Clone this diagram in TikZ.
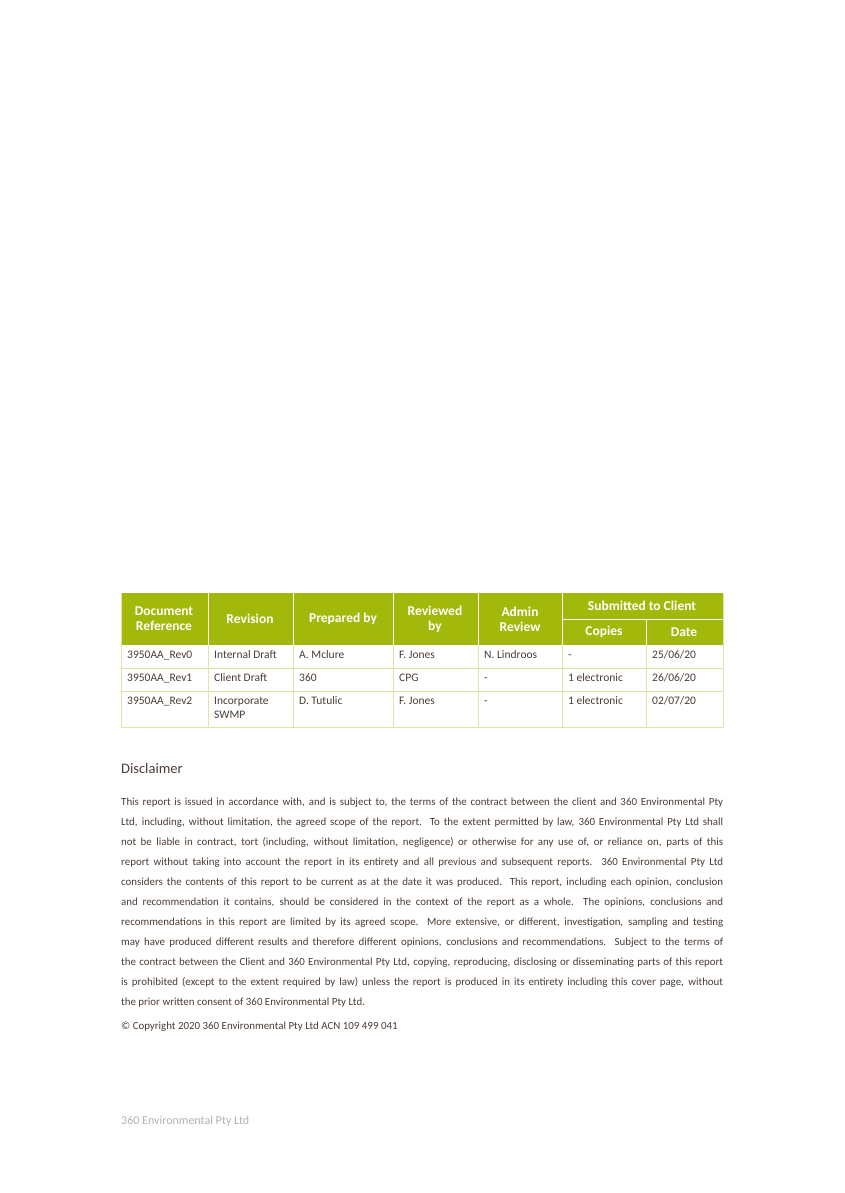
\documentclass[tikz,border=0pt]{standalone}
\usepackage{fontspec}
\setmainfont{Carlito}
\usetikzlibrary{positioning}
\definecolor{leaf}{HTML}{A2B90C}
\definecolor{leaflight}{HTML}{DCE6A8}
\definecolor{inkbrown}{HTML}{4A3C34}
\tikzset{
  hdr/.style={text=white,font=\fontsize{13.5}{15}\selectfont\bfseries,align=center,inner sep=0pt},
  cell/.style={text=inkbrown,font=\fontsize{11.5}{13.5}\selectfont,anchor=north west,align=left,inner sep=0pt},
  para/.style={text=inkbrown,font=\fontsize{10.9}{12}\selectfont,anchor=base west,inner sep=0pt}
}
\newcommand{\jline}[1]{\makebox[602pt][s]{#1}}
\begin{document}
\begin{tikzpicture}[x=1pt,y=-1pt]
\useasboundingbox (0,0) rectangle (844,1193);
% table header
\fill[leaf] (121,593) rectangle (723,645);
\draw[white,line width=1pt] (208,593) -- (208,645) (293,593) -- (293,645) (393,593) -- (393,645)
  (478,593) -- (478,645) (562,593) -- (562,645) (646,619) -- (646,645) (562,619) -- (723,619);
\draw[leaflight,line width=0.8pt] (121,593) -- (121,727) -- (723,727) -- (723,593)
  (121,668) -- (723,668) (121,691) -- (723,691);
\foreach \cx in {208,293,393,478,562,646}
  \draw[leaflight,line width=0.8pt] (\cx,645) -- (\cx,727);
\node[hdr] (docref) at (164,619) {Document\\Reference};
\node[hdr] (revision) at (250,619) {Revision};
\node[hdr] (prepared) at (343,619) {Prepared by};
\node[hdr] (reviewed) at (435,619) {Reviewed\\by};
\node[hdr] (admin) at (520,619) {Admin\\Review};
\node[hdr] (submitted) at (642,606) {Submitted to Client};
\node[hdr] (copies) at (604,632) {Copies};
\node[hdr] (date) at (684,632) {Date};
% table body
\node[cell] (r0a) at (127,649) {\strut 3950AA\_Rev0};
\node[cell] (r0b) at (214,649) {\strut Internal Draft};
\node[cell] (r0c) at (299,649) {\strut A. Mclure};
\node[cell] (r0d) at (399,649) {\strut F. Jones};
\node[cell] (r0e) at (484,649) {\strut N. Lindroos};
\node[cell] (r0f) at (568,649) {\strut -};
\node[cell] (r0g) at (652,649) {\strut 25/06/20};
\node[cell] (r1a) at (127,672) {\strut 3950AA\_Rev1};
\node[cell] (r1b) at (214,672) {\strut Client Draft};
\node[cell] (r1c) at (299,672) {\strut 360};
\node[cell] (r1d) at (399,672) {\strut CPG};
\node[cell] (r1e) at (484,672) {\strut -};
\node[cell] (r1f) at (568,672) {\strut 1 electronic};
\node[cell] (r1g) at (652,672) {\strut 26/06/20};
\node[cell] (r2a) at (127,695) {\strut 3950AA\_Rev2};
\node[cell] (r2b) at (214,695) {\strut Incorporate\\\strut SWMP};
\node[cell] (r2c) at (299,695) {\strut D. Tutulic};
\node[cell] (r2d) at (399,695) {\strut F. Jones};
\node[cell] (r2e) at (484,695) {\strut -};
\node[cell] (r2f) at (568,695) {\strut 1 electronic};
\node[cell] (r2g) at (652,695) {\strut 02/07/20};
% disclaimer
\node[text=inkbrown,font=\fontsize{14.5}{16}\selectfont,anchor=base west,inner sep=0pt] (disclaimer) at (121,773) {Disclaimer};
\node[para] (l1) at (121,805) {\jline{This report is issued in accordance with, and is subject to, the terms of the contract between the client and 360 Environmental Pty}};
\node[para] (l2) at (121,825) {\jline{Ltd, including, without limitation, the agreed scope of the report.\ \ To the extent permitted by law, 360 Environmental Pty Ltd shall}};
\node[para] (l3) at (121,845) {\jline{not be liable in contract, tort (including, without limitation, negligence) or otherwise for any use of, or reliance on, parts of this}};
\node[para] (l4) at (121,865) {\jline{report without taking into account the report in its entirety and all previous and subsequent reports. 360 Environmental Pty Ltd}};
\node[para] (l5) at (121,885) {\jline{considers the contents of this report to be current as at the date it was produced. This report, including each opinion, conclusion}};
\node[para] (l6) at (121,905) {\jline{and recommendation it contains, should be considered in the context of the report as a whole.\ \ The opinions, conclusions and}};
\node[para] (l7) at (121,925) {\jline{recommendations in this report are limited by its agreed scope.\ \ More extensive, or different, investigation, sampling and testing}};
\node[para] (l8) at (121,945) {\jline{may have produced different results and therefore different opinions, conclusions and recommendations. Subject to the terms of}};
\node[para] (l9) at (121,965) {\jline{the contract between the Client and 360 Environmental Pty Ltd, copying, reproducing, disclosing or disseminating parts of this report}};
\node[para] (l10) at (121,985) {\jline{is prohibited (except to the extent required by law) unless the report is produced in its entirety including this cover page, without}};
\node[para] (l11) at (121,1005) {the prior written consent of 360 Environmental Pty Ltd.};
\node[para] (copyright) at (121,1029) {© Copyright 2020 360 Environmental Pty Ltd ACN 109 499 041};
% footer
\node[para,text=black!30,font=\fontsize{12}{14}\selectfont] (footer) at (121,1124) {360 Environmental Pty Ltd};
\end{tikzpicture}
\end{document}
